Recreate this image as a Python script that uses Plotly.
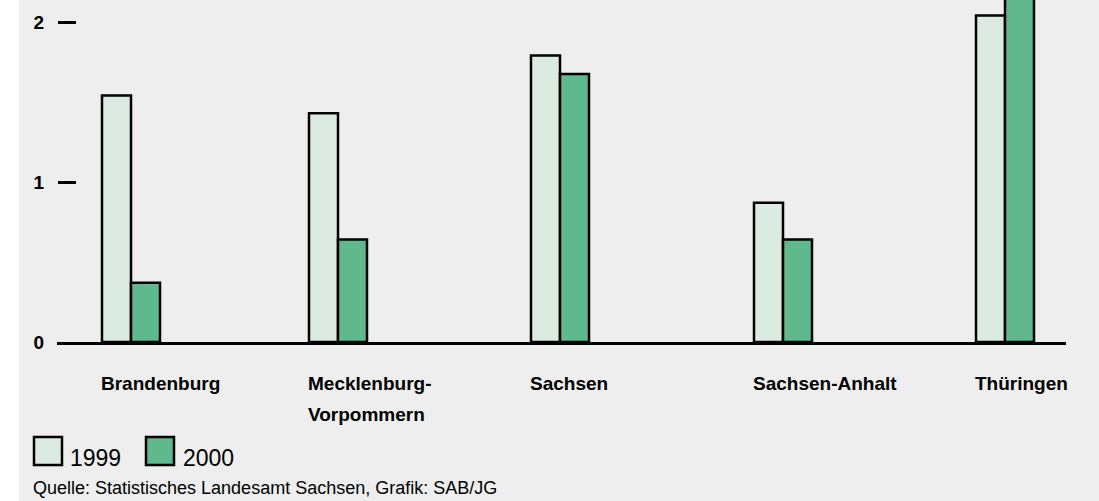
import plotly.graph_objects as go

# Values per federal state
states = [["Brandenburg"], ["Mecklenburg-", "Vorpommern"], ["Sachsen"], ["Sachsen-Anhalt"], ["Thüringen"]]
values_1999 = [1.54, 1.43, 1.79, 0.87, 2.04]
values_2000 = [0.37, 0.64, 1.675, 0.64, 2.30]
years = ["1999", "2000"]
y_ticks = [0, 1, 2]

# Layout helpers (pixel-based horizontal axis)
W, H = 1099, 501
PLOT_BOTTOM = 342          # pixel row of the zero line
PX_PER_UNIT = 160
slot_x = [131, 338, 560, 783, 1005]
BAR_W = 29

LIGHT = "#dcebe0"
DARK = "#5fb98c"
BG = "#eeeeee"
FONT = "Liberation Sans, Arial, sans-serif"

fig = go.Figure()
fig.add_trace(go.Bar(x=slot_x, y=values_1999, name=years[0], width=BAR_W, offset=-BAR_W,
                     marker=dict(color=LIGHT, line=dict(color="black", width=2.5))))
fig.add_trace(go.Bar(x=slot_x, y=values_2000, name=years[1], width=BAR_W, offset=0,
                     marker=dict(color=DARK, line=dict(color="black", width=2.5))))

def py(pix):
    """pixel row -> paper y"""
    return (PLOT_BOTTOM - pix) / PLOT_BOTTOM

def px(pix):
    return pix / W

annotations = []
for lines, cx in zip(states, slot_x):
    for k, line in enumerate(lines):
        annotations.append(dict(x=cx - BAR_W - 3, y=py(383 + 31 * k), xref="x", yref="paper",
                                text=f"<b>{line}</b>", showarrow=False, xanchor="left",
                                yanchor="middle", align="left",
                                font=dict(family=FONT, size=19, color="black")))

shapes = [
    # white strip along the left edge
    dict(type="rect", xref="paper", yref="paper", x0=0, x1=px(19), y0=py(H), y1=py(0),
         fillcolor="white", line=dict(width=0), layer="below"),
]

# legend swatches and labels
for yr, col, x0, tx in zip(years, [LIGHT, DARK], [34, 146], [68, 181]):
    shapes.append(dict(type="rect", xref="paper", yref="paper", x0=px(x0), x1=px(x0 + 28),
                       y0=py(465), y1=py(437), fillcolor=col, line=dict(color="black", width=2.5)))
    annotations.append(dict(x=px(tx), y=py(458), xref="paper", yref="paper", text=yr,
                            showarrow=False, xanchor="left", yanchor="middle",
                            font=dict(family=FONT, size=23, color="black")))

annotations.append(dict(x=px(31), y=py(488), xref="paper", yref="paper",
                        text="Quelle: Statistisches Landesamt Sachsen, Grafik: SAB/JG",
                        showarrow=False, xanchor="left", yanchor="middle",
                        font=dict(family=FONT, size=18, color="black")))

fig.update_layout(
    width=W, height=H,
    margin=dict(l=0, r=0, t=0, b=H - PLOT_BOTTOM),
    paper_bgcolor=BG, plot_bgcolor=BG,
    showlegend=False,
    xaxis=dict(domain=[px(57), px(1066)], range=[57, 1066], showline=True, linecolor="black",
               linewidth=2.5, showticklabels=False, ticks="", showgrid=False, zeroline=False,
               fixedrange=True),
    yaxis=dict(anchor="free", position=px(57), range=[0, PLOT_BOTTOM / PX_PER_UNIT],
               tickvals=y_ticks, ticktext=[f"<b>{v}</b>" for v in y_ticks],
               ticks="inside", ticklen=18, tickwidth=2.5, tickcolor="black",
               showline=False, showgrid=False, zeroline=False, ticklabelstandoff=13,
               tickfont=dict(family=FONT, size=19, color="black")),
    annotations=annotations,
    shapes=shapes,
)

fig.write_html("out.html")
